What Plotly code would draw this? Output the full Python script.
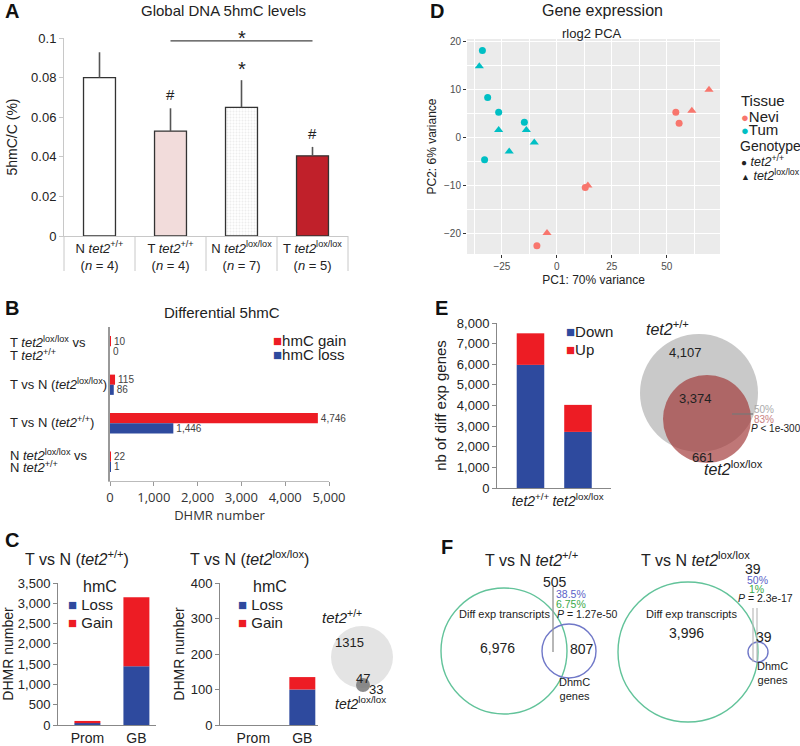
import plotly.graph_objects as go

W, H = 800, 746
def X(px): return px / W
def Y(py): return 1 - py / H

FONT = "Liberation Sans, Arial, sans-serif"
OPEN = "Open Sans, Liberation Sans, sans-serif"
RED = "#ed1c24"
BLUE = "#2e4a9e"
NEVI = "#F8766D"
TUM = "#00BFC4"

# ---------------- data ----------------
# Panel A
a_cats = ["N tet2+/+", "T tet2+/+", "N tet2lox/lox", "T tet2lox/lox"]
a_ticktext = ["N <i>tet2</i><sup>+/+</sup><br>(<i>n</i> = 4)",
              "T <i>tet2</i><sup>+/+</sup><br>(<i>n</i> = 4)",
              "N <i>tet2</i><sup>lox/lox</sup><br>(<i>n</i> = 7)",
              "T <i>tet2</i><sup>lox/lox</sup><br>(<i>n</i> = 5)"]
a_values = [0.080, 0.053, 0.065, 0.0405]
a_errors = [0.0128, 0.0115, 0.0137, 0.0045]
a_marks = ["", "#", "*", "#"]
a_colors = ["#ffffff", "#f2dcdb", "#ededed", "#c0202a"]

# Panel B
b_cats = ["g1", "g2", "g3", "g4"]
b_gain = [10, 115, 4746, 22]
b_loss = [0, 86, 1446, 1]
b_label_lines = [
    ["T <i>tet2</i><sup>lox/lox</sup> vs", "T <i>tet2</i><sup>+/+</sup>"],
    ["T vs N (<i>tet2</i><sup>lox/lox</sup>)"],
    ["T vs N (<i>tet2</i><sup>+/+</sup>)"],
    ["N <i>tet2</i><sup>lox/lox</sup> vs", "N <i>tet2</i><sup>+/+</sup>"],
]

# Panel C
c_cats = ["Prom", "GB"]
c_wt_loss = [45, 1446]
c_wt_gain = [55, 1700]
c_ko_loss = [0, 100]
c_ko_gain = [0, 35]
c_venn = [1315, 47, 33]

# Panel D (PCA)
d_tum_circ_x = [-33.9, -31.5, -26.5, -14.8, -32.9]
d_tum_circ_y = [18.2, 8.4, 5.3, 3.2, -4.6]
d_tum_tri_x = [-35.3, -26.5, -13.9, -10.3, -21.7]
d_tum_tri_y = [14.9, 1.6, 1.6, -1.0, -2.9]
d_nevi_circ_x = [54.1, 55.6, 12.9, -9.1]
d_nevi_circ_y = [5.3, 3.0, -10.4, -22.6]
d_nevi_tri_x = [61.4, 69.2, 14.1, -4.5]
d_nevi_tri_y = [5.6, 10.0, -10.0, -19.9]

# Panel E
e_cats = ["tet2+/+", "tet2lox/lox"]
e_ticktext = ["<i>tet2</i><sup>+/+</sup>", "<i>tet2</i><sup>lox/lox</sup>"]
e_down = [5970, 2720]
e_up = [1530, 1310]
e_venn = [4107, 3374, 661]

# Panel F
f_left = [6976, 505, 807]
f_right = [3996, 39, 39]

fig = go.Figure()

# ---------------- Panel A ----------------
fig.add_trace(go.Bar(
    x=a_cats, y=a_values, width=0.45, xaxis="x", yaxis="y",
    marker=dict(color=a_colors, line=dict(color="#333", width=1.3),
                pattern=dict(shape=["", "", ".", ""], fgcolor="#bdbdbd",
                             bgcolor="#f2f2f2", size=3, solidity=0.35)),
    error_y=dict(type="data", symmetric=False, array=a_errors,
                 arrayminus=[0] * 4, color="#555", thickness=1.6, width=0),
    showlegend=False))

# ---------------- Panel B ----------------
fig.add_trace(go.Bar(
    y=b_cats, x=b_gain, orientation="h", width=0.263, offset=-0.263,
    xaxis="x2", yaxis="y2", marker=dict(color=RED),
    text=[f"{v:,}" for v in b_gain], textposition="outside",
    textfont=dict(size=10, color="#444", family=FONT), constraintext="none",
    cliponaxis=False, showlegend=False))
fig.add_trace(go.Bar(
    y=b_cats, x=b_loss, orientation="h", width=0.263, offset=0,
    xaxis="x2", yaxis="y2", marker=dict(color=BLUE),
    text=[f"{v:,}" for v in b_loss], textposition="outside",
    textfont=dict(size=10, color="#444", family=FONT), constraintext="none",
    cliponaxis=False, showlegend=False))

# ---------------- Panel C ----------------
for loss, gain, xa, ya in [(c_wt_loss, c_wt_gain, "x3", "y3"),
                           (c_ko_loss, c_ko_gain, "x4", "y4")]:
    fig.add_trace(go.Bar(x=c_cats, y=loss, width=0.53, xaxis=xa, yaxis=ya,
                         marker=dict(color=BLUE), showlegend=False))
    fig.add_trace(go.Bar(x=c_cats, y=gain, base=loss, width=0.53, xaxis=xa,
                         yaxis=ya, marker=dict(color=RED), showlegend=False))

# ---------------- Panel D ----------------
for xs, ys, col, sym, sz in [
        (d_tum_circ_x, d_tum_circ_y, TUM, "circle", 7),
        (d_tum_tri_x, d_tum_tri_y, TUM, "triangle-up", 8),
        (d_nevi_circ_x, d_nevi_circ_y, NEVI, "circle", 7),
        (d_nevi_tri_x, d_nevi_tri_y, NEVI, "triangle-up", 8)]:
    fig.add_trace(go.Scatter(x=xs, y=ys, mode="markers", xaxis="x5", yaxis="y5",
                             marker=dict(color=col, symbol=sym, size=sz),
                             showlegend=False))

# ---------------- Panel E ----------------
fig.add_trace(go.Bar(x=e_cats, y=e_down, width=0.58, xaxis="x6", yaxis="y6",
                     marker=dict(color=BLUE), showlegend=False))
fig.add_trace(go.Bar(x=e_cats, y=e_up, base=e_down, width=0.58, xaxis="x6",
                     yaxis="y6", marker=dict(color=RED), showlegend=False))

# ---------------- axes ----------------
def dom_x(a, b): return [X(a), X(b)]
def dom_y(top, bottom): return [Y(bottom), Y(top)]

tick13 = dict(size=13, color="#222", family=FONT)
common = dict(showgrid=False, zeroline=False)

layout_axes = dict(
    xaxis=dict(domain=dom_x(64, 348), anchor="y", type="category",
               tickmode="array", tickvals=a_cats, ticktext=a_ticktext,
               showline=True, linecolor="#c8c8c8", ticks="",
               tickfont=tick13, range=[-0.5, 3.5], **common),
    yaxis=dict(domain=dom_y(38, 236), anchor="x", range=[0, 0.1],
               tickvals=[0, 0.02, 0.04, 0.06, 0.08, 0.1],
               ticktext=["0", "0.02", "0.04", "0.06", "0.08", "0.1"],
               showline=True, linecolor="#c8c8c8", ticks="outside",
               ticklen=4, tickcolor="#c8c8c8", tickfont=tick13,
               title=dict(text="5hmC/C (%)", font=dict(size=14, color="#222", family=FONT),
                          standoff=10), **common),
    xaxis2=dict(domain=dom_x(110, 329), anchor="y2", range=[0, 5000],
                tickvals=[0, 1000, 2000, 3000, 4000, 5000], tickformat=",",
                showline=True, linecolor="#bbb", ticks="outside", ticklen=4,
                tickcolor="#999", tickfont=dict(size=13, color="#333", family=OPEN),
                title=dict(text="DHMR number", font=dict(size=13, color="#333", family=OPEN),
                           standoff=0), **common),
    yaxis2=dict(domain=dom_y(327, 481), anchor="x2", type="category",
                range=[3.5, -0.5], showticklabels=False, showline=True,
                linecolor="#999", linewidth=1.5, ticks="", **common),
    xaxis3=dict(domain=dom_x(58, 156), anchor="y3", type="category",
                range=[-0.6, 1.4], showline=True, linecolor="#888", ticks="",
                tickfont=dict(size=14, color="#222", family=FONT), **common),
    yaxis3=dict(domain=dom_y(583, 725), anchor="x3", range=[0, 3500], dtick=500,
                tickformat=",", showline=True, linecolor="#888", ticks="outside",
                ticklen=4, tickcolor="#888", tickfont=tick13,
                title=dict(text="DHMR number", font=dict(size=14, color="#222", family=FONT),
                           standoff=7), **common),
    xaxis4=dict(domain=dom_x(220, 318), anchor="y4", type="category",
                range=[-0.68, 1.32], showline=True, linecolor="#888", ticks="",
                tickfont=dict(size=14, color="#222", family=FONT), **common),
    yaxis4=dict(domain=dom_y(583, 725), anchor="x4", range=[0, 400], dtick=100,
                showline=True, linecolor="#888", ticks="outside",
                ticklen=4, tickcolor="#888", tickfont=tick13,
                title=dict(text="DHMR number", font=dict(size=14, color="#222", family=FONT),
                           standoff=2), **common),
    xaxis5=dict(domain=dom_x(467, 720), anchor="y5", range=[-40.9, 74.2],
                tickvals=[-25, 0, 25, 50], showgrid=True, gridcolor="white",
                gridwidth=1.1, zeroline=False, ticks="outside", ticklen=3,
                tickcolor="#333", tickfont=dict(size=10, color="#4d4d4d", family=FONT),
                minor=dict(tickvals=[-37.5, -12.5, 12.5, 37.5, 62.5], showgrid=True,
                           gridcolor="white", gridwidth=0.5, ticks=""),
                title=dict(text="PC1: 70% variance", font=dict(size=12, color="#222", family=FONT),
                           standoff=4)),
    yaxis5=dict(domain=dom_y(39, 254), anchor="x5", range=[-24.3, 20.6],
                tickvals=[-20, -10, 0, 10, 20], showgrid=True, gridcolor="white",
                gridwidth=1.1, zeroline=False, ticks="outside", ticklen=3,
                tickcolor="#333", tickfont=dict(size=10, color="#4d4d4d", family=FONT),
                minor=dict(tickvals=[-15, -5, 5, 15], showgrid=True,
                           gridcolor="white", gridwidth=0.5, ticks=""),
                title=dict(text="PC2: 6% variance", font=dict(size=12, color="#222", family=FONT),
                           standoff=4)),
    xaxis6=dict(domain=dom_x(497, 611), anchor="y6", type="category",
                range=[-0.705, 1.695], tickvals=e_cats, ticktext=e_ticktext,
                showline=True, linecolor="#888", ticks="",
                tickfont=dict(size=14, color="#222", family=FONT), **common),
    yaxis6=dict(domain=dom_y(323, 488), anchor="x6", range=[0, 8000], dtick=1000,
                tickformat=",", showline=True, linecolor="#888", ticks="outside",
                ticklen=4, tickcolor="#888", tickfont=tick13,
                title=dict(text="nb of diff exp genes", font=dict(size=15, color="#222", family=FONT),
                           standoff=6), **common),
)

# ---------------- shapes ----------------
shapes = []
# A category separators
for i in range(5):
    shapes.append(dict(type="line", xref="x domain", yref="paper",
                       x0=i / 4, x1=i / 4, y0=Y(236), y1=Y(271),
                       line=dict(color="#c8c8c8", width=1)))
# A significance line
shapes.append(dict(type="line", xref="x", yref="y", x0=1, x1=3, y0=0.0985, y1=0.0985,
                   line=dict(color="#444", width=1.2)))
# D background
shapes.append(dict(type="rect", xref="x5 domain", yref="y5 domain", x0=0, x1=1,
                   y0=0, y1=1, fillcolor="#ebebeb", line=dict(width=0), layer="below"))

def circle(cx, cy, r, fill="rgba(0,0,0,0)", line_color=None, lw=0):
    return dict(type="circle", xref="paper", yref="paper",
                x0=X(cx - r), x1=X(cx + r), y0=Y(cy + r), y1=Y(cy - r),
                fillcolor=fill, line=dict(color=line_color or "rgba(0,0,0,0)", width=lw))

def pline(x0, y0, x1, y1, color="#999", w=1.2):
    return dict(type="line", xref="paper", yref="paper", x0=X(x0), x1=X(x1),
                y0=Y(y0), y1=Y(y1), line=dict(color=color, width=w))

# C venn
shapes.append(circle(362, 657, 31, fill="#e4e4e4"))
shapes.append(circle(363, 685, 7, fill="rgba(120,120,120,0.85)"))
# E venn
shapes.append(circle(699, 393, 59, fill="#c9c9c9"))
shapes.append(circle(707, 419, 44, fill="rgba(160,55,55,0.68)"))
shapes.append(pline(732, 414, 753, 414, color="#777", w=1.2))
# F venns
shapes.append(circle(504, 651, 63, line_color="#62c39a", lw=1.4))
shapes.append(circle(569, 651, 27, line_color="#7078c8", lw=1.4))
shapes.append(pline(553, 587, 553, 652, color="#999", w=1.4))
shapes.append(circle(688, 652, 70, line_color="#62c39a", lw=1.4))
shapes.append(circle(758, 652, 10, line_color="#7078c8", lw=1.4))
shapes.append(pline(753, 608, 753, 662, color="#bbb", w=1.2))
shapes.append(pline(757, 608, 757, 662, color="#bbb", w=1.2))

# ---------------- annotations ----------------
def ann(text, x, y, size=13, color="#222", xanchor="center", yanchor="middle",
        family=FONT, **kw):
    return dict(text=text, x=X(x), y=Y(y), xref="paper", yref="paper",
                showarrow=False, font=dict(size=size, color=color, family=family),
                xanchor=xanchor, yanchor=yanchor, **kw)

anns = []
# panel letters
for L, x, y in [("A", 3, 11), ("B", 3, 308), ("C", 3, 540),
                ("D", 428, 11), ("E", 433, 308), ("F", 439, 547)]:
    anns.append(ann(f"<b>{L}</b>", x, y, size=20, color="#111", xanchor="left"))

# A
anns.append(ann("Global DNA 5hmC levels", 223, 10, size=15))
for i, m in enumerate(a_marks):
    if m:
        sz = 20 if m == "*" else 15
        anns.append(dict(text=m, x=a_cats[i], y=a_values[i] + a_errors[i],
                         xref="x", yref="y", showarrow=False, yanchor="bottom",
                         yshift=3 if m == "#" else -2,
                         font=dict(size=sz, color="#222", family=FONT)))
anns.append(dict(text="*", x=a_cats[2], y=0.0985, xref="x", yref="y",
                 showarrow=False, yanchor="bottom", yshift=-10,
                 font=dict(size=20, color="#222", family=FONT)))

# B
anns.append(ann("Differential 5hmC", 222, 313, size=15))
b_line_y = [[342, 355], [384], [422], [455, 467]]
for lines, ys in zip(b_label_lines, b_line_y):
    for t, yy in zip(lines, ys):
        anns.append(ann(t, 8, yy, size=13, xanchor="left"))
anns.append(ann(f"<span style='color:{RED}'>■</span>hmC gain", 271, 340,
                size=15, xanchor="left"))
anns.append(ann(f"<span style='color:{BLUE}'>■</span>hmC loss", 271, 354,
                size=15, xanchor="left"))

# C
anns.append(ann("T vs N (<i>tet2</i><sup>+/+</sup>)", 77, 558, size=16))
anns.append(ann("T vs N (<i>tet2</i><sup>lox/lox</sup>)", 249, 558, size=16))
for xl in (66, 236):
    anns.append(ann("hmC", xl + 15, 586, size=16, xanchor="left"))
    anns.append(ann(f"<span style='color:{BLUE}'>■</span> Loss", xl, 604,
                    size=15, xanchor="left"))
    anns.append(ann(f"<span style='color:{RED}'>■</span> Gain", xl, 622,
                    size=15, xanchor="left"))
anns.append(ann("<i>tet2</i><sup>+/+</sup>", 342, 616, size=15))
anns.append(ann(str(c_venn[0]), 349, 642, size=13))
anns.append(ann(str(c_venn[1]), 363, 678, size=13))
anns.append(ann(str(c_venn[2]), 376, 689, size=13))
anns.append(ann("<i>tet2</i><sup>lox/lox</sup>", 360, 703, size=14))

# D
anns.append(ann("Gene expression", 602, 10, size=16))
anns.append(ann("rlog2 PCA", 592, 33, size=13))
anns.append(ann("Tissue", 739, 101, size=15, xanchor="left"))
anns.append(ann(f"<span style='color:{NEVI};font-size:13px'>●</span>Nevi", 739, 116,
                size=15, xanchor="left"))
anns.append(ann(f"<span style='color:{TUM};font-size:13px'>●</span>Tum", 739, 129,
                size=15, xanchor="left"))
anns.append(ann("Genotype", 738, 146, size=14, xanchor="left"))
anns.append(ann("<span style='font-size:10px'>●</span> <i>tet2</i><sup>+/+</sup>", 739, 161,
                size=12.5, xanchor="left"))
anns.append(ann("<span style='font-size:9px'>▲</span> <i>tet2</i><sup>lox/lox</sup>", 739, 175,
                size=12.5, xanchor="left"))

# E
anns.append(ann(f"<span style='color:{BLUE}'>■</span>Down", 564, 331, size=15, xanchor="left"))
anns.append(ann(f"<span style='color:{RED}'>■</span>Up", 564, 349, size=15, xanchor="left"))
anns.append(ann("<i>tet2</i><sup>+/+</sup>", 667, 328, size=16))
anns.append(ann(f"{e_venn[0]:,}", 685, 352, size=13))
anns.append(ann(f"{e_venn[1]:,}", 695, 398, size=13))
anns.append(ann(f"{e_venn[2]:,}", 703, 457, size=13))
anns.append(ann("<i>tet2</i><sup>lox/lox</sup>", 733, 468, size=16))
anns.append(ann("50%", 752, 409, size=10, color="#aaa", xanchor="left"))
anns.append(ann("83%", 752, 419, size=10, color="#c98080", xanchor="left"))
anns.append(ann("<i>P</i> < 1e-300", 749, 428, size=10, color="#222", xanchor="left"))

# F
anns.append(ann("T vs N <i>tet2</i><sup>+/+</sup>", 531, 559, size=16))
anns.append(ann("T vs N <i>tet2</i><sup>lox/lox</sup>", 695, 559, size=16))
anns.append(ann("Diff exp transcripts", 504, 614, size=11))
anns.append(ann(f"{f_left[0]:,}", 497, 648, size=14))
anns.append(ann(f"{f_left[2]:,}", 582, 649, size=14))
anns.append(ann("DhmC<br>genes", 574, 689, size=11))
anns.append(ann(f"{f_left[1]:,}", 555, 582, size=14))
anns.append(ann("38.5%", 554, 594, size=10.5, color="#5a5fc8", xanchor="left"))
anns.append(ann("6.75%", 554, 604, size=10.5, color="#3aa94a", xanchor="left"))
anns.append(ann("<i>P</i> = 1.27e-50", 555, 614, size=10.5, xanchor="left"))
anns.append(ann("Diff exp transcripts", 691, 614, size=11))
anns.append(ann(f"{f_right[0]:,}", 686, 633, size=14))
anns.append(ann(f"{f_right[2]:,}", 764, 637, size=14))
anns.append(ann("DhmC<br>genes", 772, 673, size=11))
anns.append(ann(f"{f_right[1]:,}", 753, 569, size=14))
anns.append(ann("50%", 757, 580, size=10.5, color="#5a5fc8"))
anns.append(ann("1%", 756, 589, size=10.5, color="#3aa94a"))
anns.append(ann("<i>P</i> = 2.3e-17", 765, 598, size=10.5))

fig.update_layout(
    width=W, height=H, margin=dict(l=0, r=0, t=0, b=0),
    template="none", paper_bgcolor="white", plot_bgcolor="rgba(0,0,0,0)",
    barmode="overlay", font=dict(family=FONT, color="#222"),
    showlegend=False, shapes=shapes, annotations=anns, **layout_axes)

fig.write_html("out.html", config={"displayModeBar": False},
               post_script="document.body.style.margin='0';"
                           "document.body.style.overflow='hidden';")
